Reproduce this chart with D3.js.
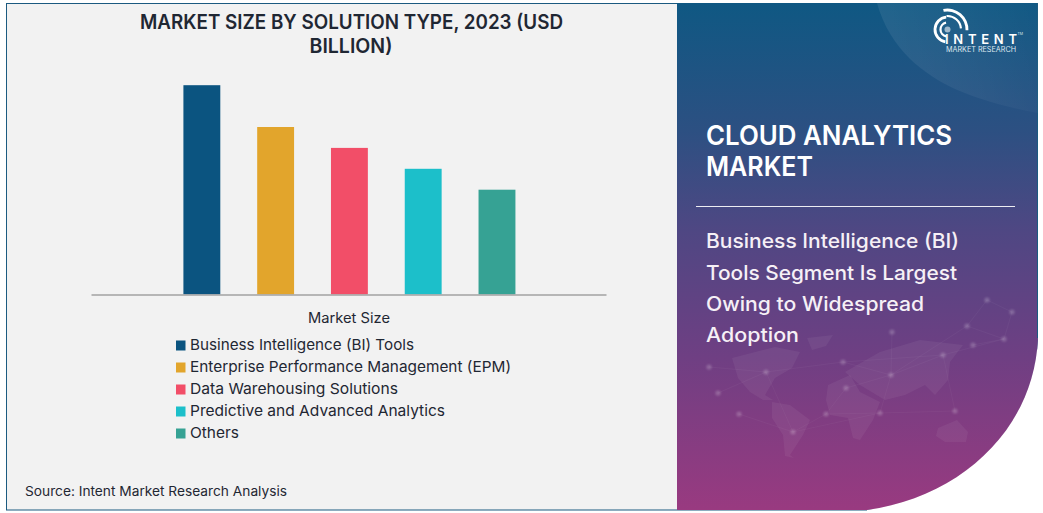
<!DOCTYPE html>
<html><head><meta charset="utf-8">
<script src="https://cdn.jsdelivr.net/npm/d3@7"></script>
<style>html,body{margin:0;padding:0;background:#fff}svg{display:block}text{font-family:Inter,"Noto Sans",sans-serif}</style>
</head><body><svg id="c" width="1043" height="513"></svg>
<script>
const categories=["Business Intelligence (BI) Tools","Enterprise Performance Management (EPM)","Data Warehousing Solutions","Predictive and Advanced Analytics","Others"];
const marketSize=[5.0,4.0,3.5,3.0,2.5];
const colors=["#0b5480","#e2a52c","#f24e68","#1cbfca","#36a294"];
const titleLines=["MARKET SIZE BY SOLUTION TYPE, 2023 (USD","BILLION)"];
const axisLabel="Market Size";
const sourceText="Source: Intent Market Research Analysis";
const panelTitle=["CLOUD ANALYTICS","MARKET"];
const panelText=["Business Intelligence (BI)","Tools Segment Is Largest","Owing to Widespread","Adoption"];

const svg=d3.select("#c");
const defs=svg.append("defs");
const g=defs.append("linearGradient").attr("id","pg").attr("x1",0).attr("y1",0).attr("x2",0).attr("y2",1);
[[0,"#0f5883"],[.25,"#2c5082"],[.45,"#4f4783"],[.7,"#6f3f83"],[1,"#993a80"]].forEach(s=>g.append("stop").attr("offset",s[0]).attr("stop-color",s[1]));
const og=defs.append("linearGradient").attr("id","og").attr("gradientUnits","userSpaceOnUse").attr("x1",880).attr("y1",60).attr("x2",1040).attr("y2",20);
[[0,.08],[.55,.045],[1,.01]].forEach(s=>og.append("stop").attr("offset",s[0]).attr("stop-color","#fff").attr("stop-opacity",s[1]));
defs.append("filter").attr("id","soft").attr("x","-100%").attr("y","-100%").attr("width","300%").attr("height","300%").append("feGaussianBlur").attr("stdDeviation",1.2);
const panelD="M677,3H1038V338C1034,430 960,497 867,510H677Z";
defs.append("clipPath").attr("id","pc").append("path").attr("d",panelD);

svg.append("rect").attr("x",6.5).attr("y",3.5).attr("width",1031).attr("height",506.5).attr("fill","#f2f2f2").attr("stroke","#1b5a80").attr("stroke-width",1);
svg.append("path").attr("d","M867,510C960,497 1034,430 1038,338V511H867Z").attr("fill","#fff");
svg.append("path").attr("d",panelD).attr("fill","url(#pg)");
svg.append("path").attr("d","M1037.5,3V338").attr("stroke","#1b5a80").attr("fill","none");

const deco=svg.append("g").attr("clip-path","url(#pc)");
deco.append("path").attr("d","M877,3C890,50 925,75 955,89C980,100 1010,108 1038,113V3Z").attr("fill","url(#og)");
const land=["M732,358L775,347L800,352L792,368L775,378L765,395L773,400L763,400L750,392L738,378Z",
"M807,338L833,335L826,346L812,350Z",
"M772,402L790,405L810,420L803,435L790,455L794,458L785,456L783,435L772,418Z",
"M828,385L850,375L860,392L880,402L873,420L860,440L853,438L848,418L830,415L826,400Z",
"M845,372L880,352L920,340L963,345L950,362L948,380L935,395L925,385L905,395L885,400L860,385Z",
"M938,428L957,420L968,432L966,442L945,442L936,436Z"];
deco.selectAll("path.land").data(land).join("path").attr("class","land").attr("d",d=>d).attr("fill","#fff").attr("opacity",.055);
const nodes=[[709,367],[718,393],[739,414],[766,372],[793,432],[826,414],[843,362],[891,375],[880,413],[955,411],[943,355],[1004,339],[987,300],[1012,312],[967,326],[892,332],[846,388],[973,345]];
const links=[[0,3],[3,6],[6,7],[7,10],[10,11],[2,4],[4,5],[5,16],[16,7],[7,14],[14,12],[12,13],[1,3],[3,4],[8,7],[8,9],[9,10],[6,10],[11,13],[14,11],[15,7],[8,4],[5,8],[11,17]];
deco.selectAll("line").data(links).join("line").attr("x1",d=>nodes[d[0]][0]).attr("y1",d=>nodes[d[0]][1]).attr("x2",d=>nodes[d[1]][0]).attr("y2",d=>nodes[d[1]][1]).attr("stroke","#fff").attr("stroke-width",.4).attr("opacity",.09);
deco.selectAll("circle").data(nodes).join("circle").attr("cx",d=>d[0]).attr("cy",d=>d[1]).attr("r",2.6).attr("fill","#fff").attr("opacity",.2).attr("filter","url(#soft)");

const x=d3.scaleBand().domain(categories).range([91,606]).paddingInner(.5).paddingOuter(1.24).align(.505);
const y=d3.scaleLinear().domain([0,5]).range([294.2,85.2]);
svg.selectAll("rect.bar").data(categories).join("rect").attr("class","bar")
 .attr("x",d=>x(d)).attr("width",x.bandwidth())
 .attr("y",(d,i)=>y(marketSize[i])).attr("height",(d,i)=>y(0)-y(marketSize[i]))
 .attr("fill",(d,i)=>colors[i]);
const ax=svg.append("g").attr("transform","translate(0,294.5)").call(d3.axisBottom(x).tickValues([]).tickSizeOuter(0));
ax.select(".domain").attr("stroke","#7b7b7b").attr("stroke-width",1);

function t(txt,px,py,size,weight,fill,anchor,w,adj){
 const s=svg.append("text").attr("x",px).attr("y",py).attr("font-size",size).attr("font-weight",weight).attr("fill",fill).attr("text-anchor",anchor||"start").text(txt);
 if(w)s.attr("textLength",w).attr("lengthAdjust",adj||"spacingAndGlyphs");
 return s;
}
const dark="#1f2733";
t(titleLines[0],351.5,29,20,600,dark,"middle",423);
t(titleLines[1],351,53,20,600,dark,"middle",83);
t(axisLabel,349,323,14,400,dark,"middle",82);
const legendY=d3.scalePoint().domain(categories).range([345,433]);
svg.selectAll("rect.sw").data(categories).join("rect").attr("class","sw").attr("x",176).attr("width",9.5).attr("height",10)
 .attr("y",d=>legendY(d)-4.5).attr("fill",(d,i)=>colors[i]);
const legendW=[224,321,208,255,49];
categories.forEach((c,i)=>t(c,190,legendY(c)+5,15,400,dark,"start",legendW[i]));
t(sourceText,25,496,13,400,dark,"start",262);

t(panelTitle[0],706,145,27,600,"#fff","start",246);
t(panelTitle[1],706,176,27,600,"#fff","start",107);
svg.append("line").attr("x1",696).attr("x2",1015).attr("y1",206.5).attr("y2",206.5).attr("stroke","#fff").attr("opacity",.9);
const pw=[253,251,218,93],pb=[248,280,311,342];
panelText.forEach((l,i)=>t(l,706,pb[i],20,500,"#f6f0f6","start",pw[i]));

// logo
const deg=Math.PI/180, arc=d3.arc();
const logoArcs=[[7,2.2,-170,-12],[12.5,2.8,-170,-6],[13.5,2.2,-4,85],[19.5,2.8,-12,92]];
const logo=svg.append("g").attr("transform","translate(947.5,29.5)");
logo.selectAll("path").data(logoArcs).join("path")
 .attr("d",d=>arc({innerRadius:d[0]-d[1]/2,outerRadius:d[0]+d[1]/2,startAngle:d[2]*deg,endAngle:d[3]*deg})).attr("fill","#fff");
logo.append("circle").attr("r",3).attr("fill","#9fb9cc");
t("INTENT",945,43.5,13,600,"#fff","start",72,"spacing");
t("MARKET RESEARCH",946,52,7,400,"#dfe8ef","start",70);
t("TM",1017.5,35,3.5,400,"#dfe7ee");
</script></body></html>
